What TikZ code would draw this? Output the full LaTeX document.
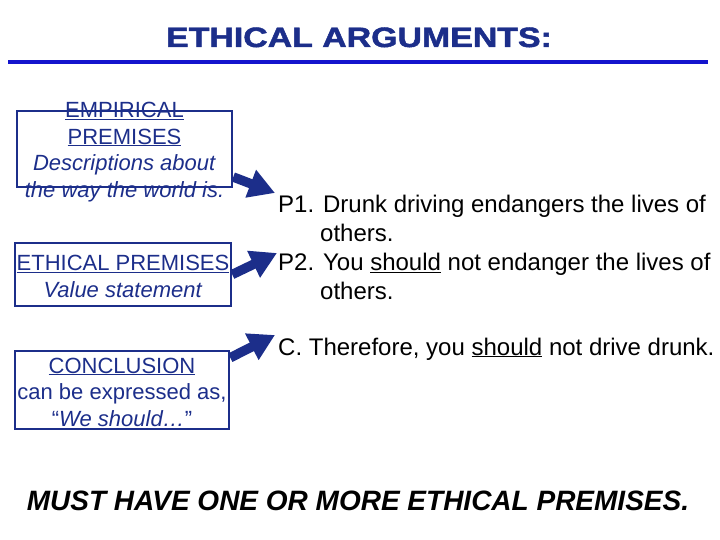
\documentclass[tikz,border=0pt]{standalone}
\usepackage{fontspec}
\setmainfont{Liberation Sans}
\newfontfamily\headfont[FakeBold=1.6]{Liberation Sans Bold}
\usetikzlibrary{arrows.meta,positioning}
\definecolor{navy}{RGB}{28,46,138}
\definecolor{rulecol}{RGB}{20,20,205}
\tikzset{
    premisebox/.style={draw=navy, line width=2.5pt, inner sep=0pt},
    boxtext/.style={text=navy, align=center, anchor=base, font=\fontsize{22}{26.5}\selectfont},
    bigarrow/.style={draw=navy, fill=navy, line width=9.5pt, -{Triangle[length=26pt,width=28pt]}},
    claim/.style={anchor=base west, align=left, inner sep=0pt, font=\fontsize{24}{28.5}\selectfont}
}

\begin{document}
\begin{tikzpicture}[x=1pt, y=-1pt]
    \useasboundingbox (0, 0) rectangle (720, 540);
    % heading
    \node[anchor=base, text=navy, inner sep=0pt, font=\fontsize{28}{32}\headfont] (title) at (359, 47) {\scalebox{1.21}[1]{ETHICAL ARGUMENTS:}};
    \draw[rulecol, line width=3.5pt] (8, 62) -- (708, 62);
    % boxes on the left
    \node[premisebox, minimum width=215, minimum height=76] (emp) at (124.5, 149) {};
    \node[boxtext] (empt) at (124.5, 197) {\underline{EMPIRICAL}\\\underline{PREMISES}\\\textit{Descriptions about}\\\textit{the way the world is.}};
    \node[premisebox, minimum width=216, minimum height=63] (eth) at (123, 274.5) {};
    \node[boxtext] (etht) at (123, 297) {\underline{ETHICAL PREMISES}\\\textit{Value statement}};
    \node[premisebox, minimum width=214, minimum height=78] (con) at (122, 390) {};
    \node[boxtext] (cont) at (122, 426) {\underline{CONCLUSION}\\can be expressed as,\\“\textit{We should…}”};
    % the argument
    \node[claim] (p1) at (278, 241) {P1. Drunk driving endangers the lives of\\\hspace{42pt}others.};
    \node[claim] (p2) at (278, 299) {P2. You \underline{should} not endanger the lives of\\\hspace{42pt}others.};
    \node[claim] (c) at (278, 355) {C. Therefore, you \underline{should} not drive drunk.};
    \coordinate (tip1) at (275, 193);
    \coordinate (tip2) at (277, 253);
    \coordinate (tip3) at (275, 335);
    \draw[bigarrow] ([yshift=-28pt]emp.east) -- (tip1);
    \draw[bigarrow] (eth.east) -- (tip2);
    \draw[bigarrow] ([yshift=-8pt]con.north east) -- (tip3);
    % footer
    \node[anchor=base, font=\fontsize{28}{32}\selectfont\bfseries\itshape] (must) at (358, 510) {MUST HAVE ONE OR MORE ETHICAL PREMISES.};
\end{tikzpicture}
\end{document}
